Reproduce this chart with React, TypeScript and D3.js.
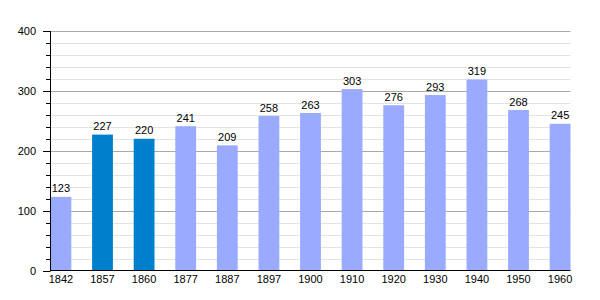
import React from "react";
import * as d3 from "d3";

const years = ["1842", "1857", "1860", "1877", "1887", "1897", "1900", "1910", "1920", "1930", "1940", "1950", "1960"];
const population = [123, 227, 220, 241, 209, 258, 263, 303, 276, 293, 319, 268, 245];
const highlighted = ["1857", "1860"];
const majorTicks = [0, 100, 200, 300, 400];
const minorTicks = d3.range(0, 401, 20);

const W = 600;
const H = 300;
const left = 50.5;
const right = 570.5;
const top = 31;
const bottom = 270.5;
const font = "Liberation Sans, Arial, sans-serif";

export default function App() {
  const x = d3.scaleBand<string>().domain(years).range([left, right]).paddingInner(0.5).paddingOuter(0);
  const y = d3.scaleLinear().domain([0, 400]).range([bottom, top]);

  return (
    <svg width={W} height={H} style={{ position: "absolute", left: 0, top: 0 }}>
      <rect width={W} height={H} fill="#fff" />
      {minorTicks.filter((t) => t % 100 !== 0).map((t) => (
        <line key={"m" + t} x1={left} x2={right} y1={Math.round(y(t)) + 0.5} y2={Math.round(y(t)) + 0.5} stroke="#e3e3e3" strokeWidth={1} />
      ))}
      {majorTicks.filter((t) => t !== 0).map((t) => (
        <line key={"g" + t} x1={left} x2={right} y1={Math.round(y(t)) + 0.5} y2={Math.round(y(t)) + 0.5} stroke="#aaaaaa" strokeWidth={1} />
      ))}
      {years.map((yr, i) => (
        <g key={yr}>
          <rect
            x={x(yr)}
            y={y(population[i])}
            width={x.bandwidth()}
            height={y(0) - y(population[i])}
            fill={highlighted.includes(yr) ? "#0080cc" : "#99aaff"}
          />
          <text x={(x(yr) as number) + x.bandwidth() / 2} y={y(population[i]) - 4.5} textAnchor="middle" fontFamily={font} fontSize={11} fill="#000">
            {population[i]}
          </text>
          <text x={(x(yr) as number) + x.bandwidth() / 2} y={282.5} textAnchor="middle" fontFamily={font} fontSize={11} fill="#000">
            {yr}
          </text>
        </g>
      ))}
      {minorTicks.map((t) => (
        <line key={"t" + t} x1={t % 100 === 0 ? 43 : 46} x2={left} y1={Math.round(y(t)) + 0.5} y2={Math.round(y(t)) + 0.5} stroke="#000" strokeWidth={1} />
      ))}
      {majorTicks.map((t) => (
        <text key={"l" + t} x={36} y={y(t) + 4} textAnchor="end" fontFamily={font} fontSize={11} fill="#000">
          {t}
        </text>
      ))}
      <line x1={left} x2={left} y1={top} y2={bottom + 0.5} stroke="#000" strokeWidth={1} />
      <line x1={left} x2={right} y1={bottom} y2={bottom} stroke="#000" strokeWidth={1} />
    </svg>
  );
}
